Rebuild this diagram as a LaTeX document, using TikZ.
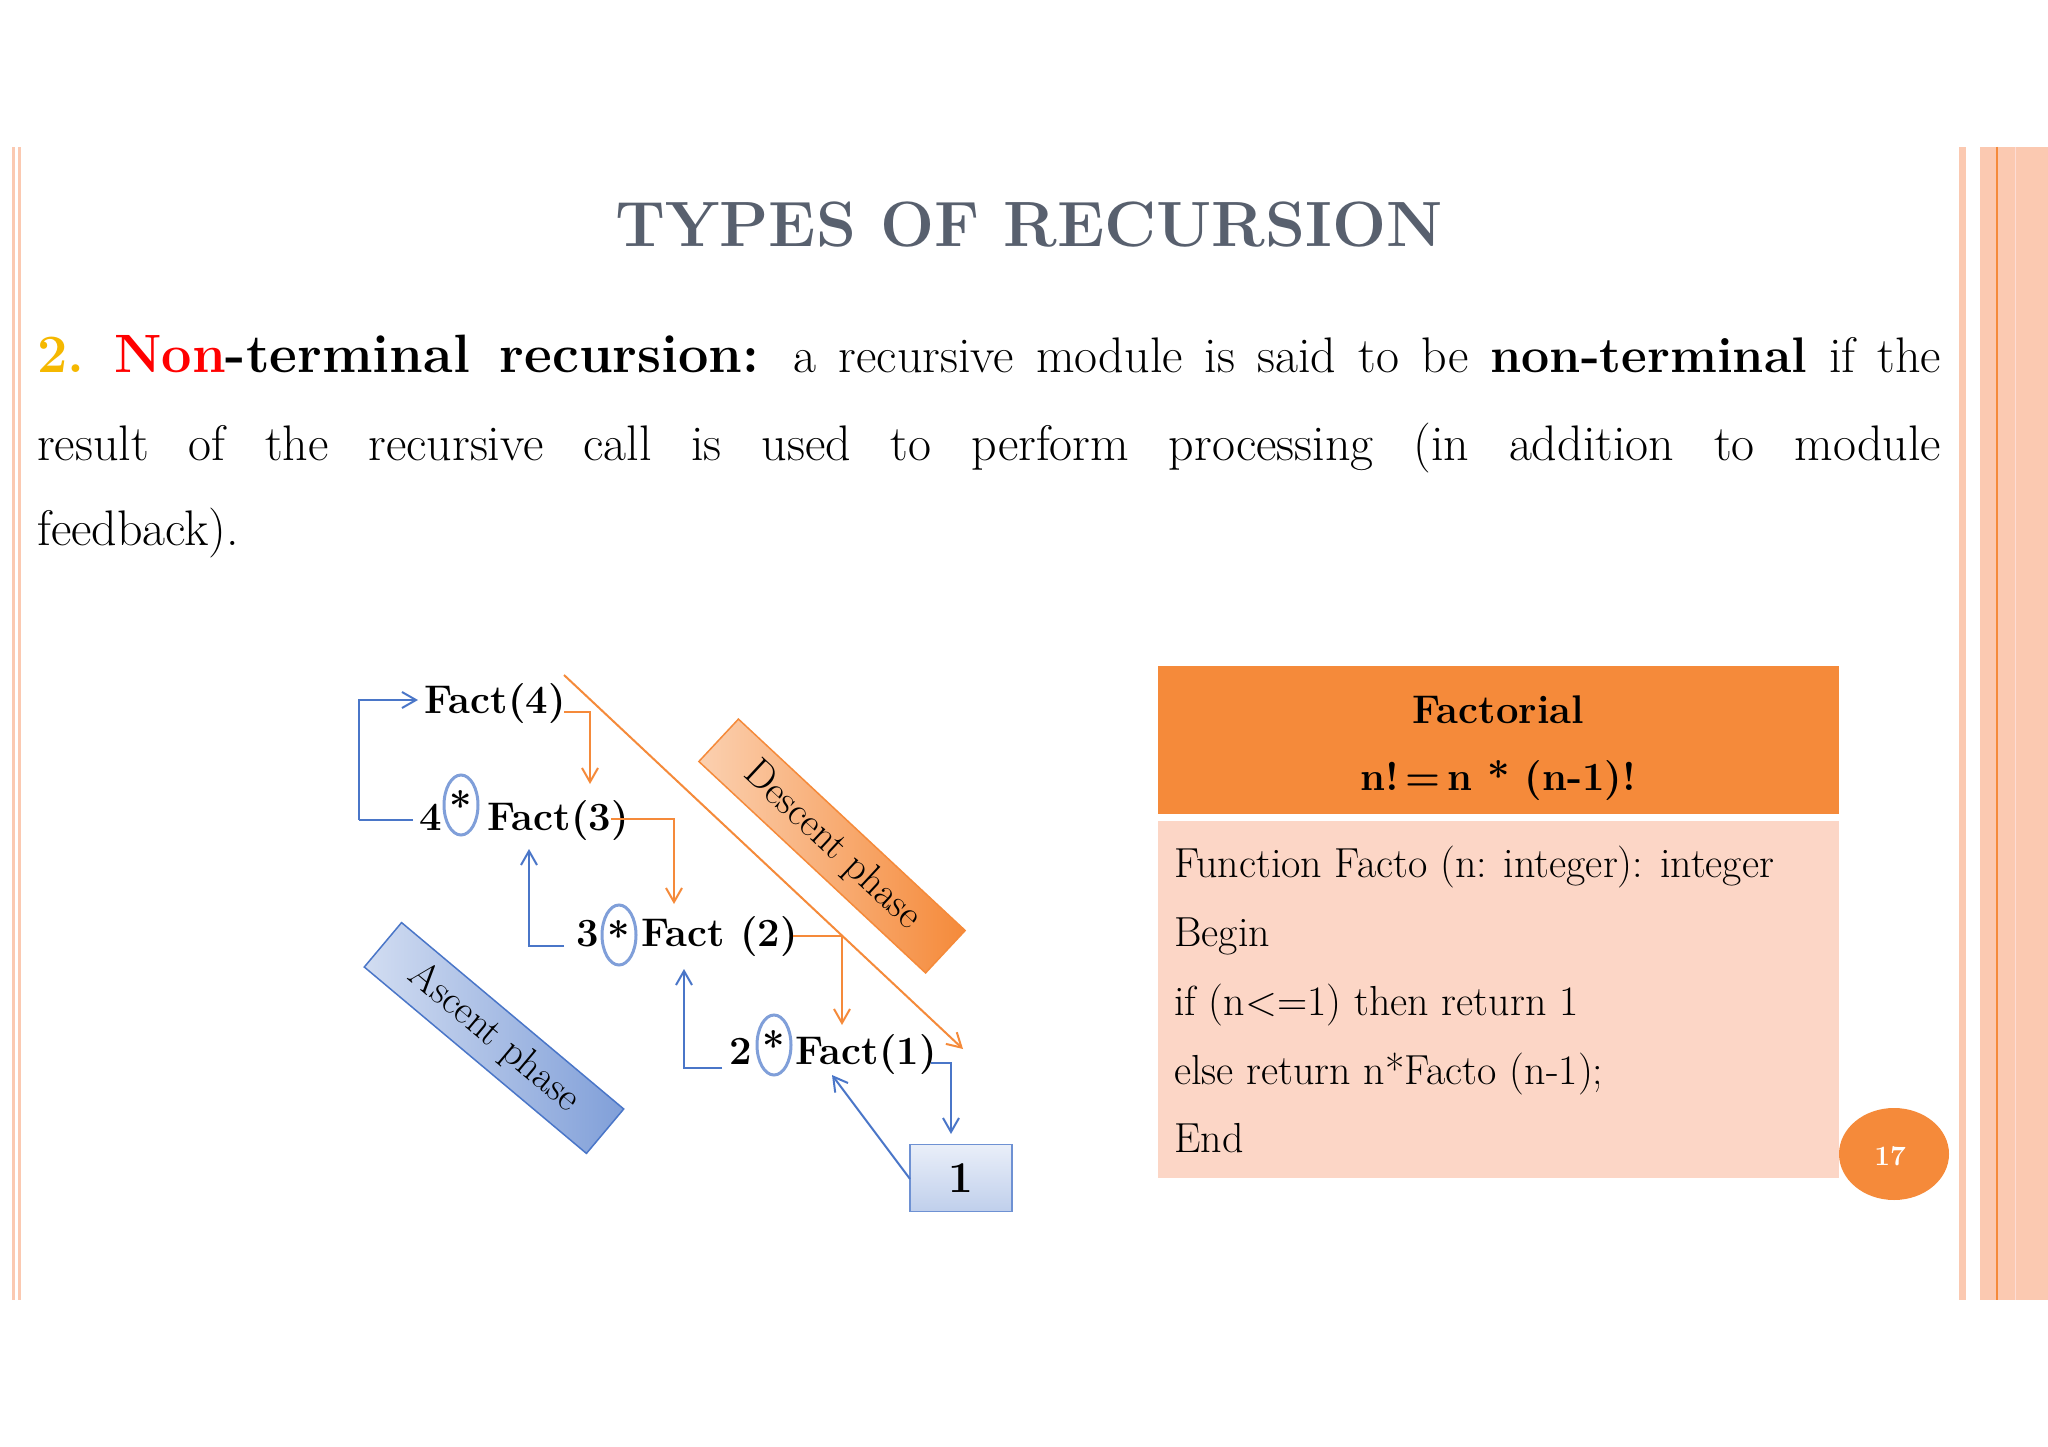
\documentclass[tikz,border=0pt]{standalone}
\usetikzlibrary{arrows.meta,shapes.geometric}
\definecolor{org}{HTML}{F58A3A}
\definecolor{pinkbg}{HTML}{FCD6C6}
\definecolor{bar}{HTML}{FBC9B1}
\definecolor{titlec}{HTML}{58606E}
\definecolor{blu}{HTML}{4A76C8}
\definecolor{ylw}{HTML}{F5B800}
\begin{document}
\begin{tikzpicture}[x=1pt,y=-1pt,
  dg/.style={font=\fontsize{40}{48}\selectfont\bfseries, inner sep=0pt, anchor=base west},
  oarr/.style={org, line width=2pt, -{Straight Barb[length=14pt,width=16pt]}},
  barr/.style={blu, line width=2pt, -{Straight Barb[length=14pt,width=16pt]}},
  bline/.style={blu, line width=2pt},
  oval/.style={draw=blu!70, line width=3pt, ellipse, minimum width=34pt, minimum height=60pt, inner sep=0pt},
  bodyt/.style={font=\fontsize{42}{48}\selectfont, anchor=base west, inner sep=0pt},
  para/.style={font=\fontsize{50}{56}\selectfont, anchor=base west, inner sep=0pt}]
\useasboundingbox (0,0) rectangle (2048,1447);
\fill[white] (0,0) rectangle (2048,1447);
% side bars
\fill[bar] (12,147) rectangle (15,1300);
\fill[bar] (18,147) rectangle (21,1300);
\fill[bar] (1959,147) rectangle (1966,1300);
\fill[bar] (1980,147) rectangle (2048,1300);
\draw[org, line width=2pt] (1997,147) -- (1997,1300);
\draw[bar!130!org, line width=1pt] (2015,147) -- (2015,1300);
% title
\node[font=\fontsize{64}{70}\selectfont\bfseries, text=titlec] (title) at (1029,225) {TYPES OF RECURSION};
% paragraph
\node[para] (l1) at (37,372) {\makebox[1904pt][s]{{\bfseries\fontsize{54}{60}\selectfont\textcolor{ylw}{2.}\ \textcolor{red}{Non}-terminal\ recursion:} a recursive module is said to be \textbf{non-terminal} if the}};
\node[para] (l2) at (37,460) {\makebox[1904pt][s]{result of the recursive call is used to perform processing (in addition to module}};
\node[para] (l3) at (37,545) {feedback).};
% diagram texts
\node[dg] (f4) at (424,713) {Fact(4)};
\node[dg] (n4) at (419,830) {4};
\node[dg] (f3) at (487,830) {Fact(3)};
\node[dg] (n3) at (576,946) {3};
\node[dg] (f2) at (641,946) {Fact (2)};
\node[dg] (n2) at (729,1064) {2};
\node[dg] (f1) at (795,1064) {Fact(1)};
\node[oval] (e4) at (461,805) {\fontsize{40}{48}\selectfont\bfseries\raisebox{-10pt}{*}};
\node[oval] (e3) at (619,935) {\fontsize{40}{48}\selectfont\bfseries\raisebox{-10pt}{*}};
\node[oval] (e2) at (774,1045) {\fontsize{40}{48}\selectfont\bfseries\raisebox{-10pt}{*}};
\node[draw=blu!80, line width=1.5pt, top color=blu!12, bottom color=blu!35, minimum width=102pt, minimum height=67pt, font=\fontsize{44}{50}\selectfont\bfseries] (one) at (961,1178) {1};
% connectors
\coordinate (a0) at (359,820);
\draw[bline] (413,820) -- (a0);
\draw[barr] (a0) -- (359,700) -- (418,700);
\draw[oarr] (564,712) -- (590,712) -- (590,784);
\draw[oarr] (611,819) -- (674,819) -- (674,904);
\draw[barr] (564,946) -- (529,946) -- (529,849);
\draw[oarr] (793,936) -- (842,936) -- (842,1025);
\draw[barr] (722,1068) -- (684,1068) -- (684,969);
\draw[barr] (931,1063) -- (951,1063) -- (951,1134);
\coordinate (oc) at (910,1179);
\draw[barr] (oc) -- (832,1075);
\draw[org, line width=2pt, -{Straight Barb[length=14pt,width=16pt]}] (564,675) -- (963,1049);
% phase labels
\node[draw=org, line width=1.5pt, left color=org!40, right color=org, rotate=-43, minimum width=310pt, minimum height=58pt, font=\fontsize{40}{48}\selectfont] (desc) at (832,846) {Descent phase};
\node[draw=blu, line width=1.5pt, left color=blu!25, right color=blu!70, rotate=-40, minimum width=290pt, minimum height=58pt, font=\fontsize{40}{48}\selectfont] (asc) at (494,1038) {Ascent phase};
% table
\fill[org] (1158,666) rectangle (1839,814);
\fill[pinkbg] (1158,821) rectangle (1839,1178);
\node[font=\fontsize{40}{48}\selectfont\bfseries] (h1) at (1498,710) {Factorial};
\node[font=\fontsize{40}{48}\selectfont\bfseries] (h2) at (1498,781) {n!\,=\,n * (n-1)!};
\node[bodyt] (b1) at (1174,877) {Function Facto (n: integer): integer};
\node[bodyt] (b2) at (1174,946) {Begin};
\node[bodyt] (b3) at (1174,1015) {if (n<=1) then return 1};
\node[bodyt] (b4) at (1174,1084) {else return n*Facto (n-1);};
\node[bodyt] (b5) at (1174,1152) {End};
% page number
\fill[org] (1894,1154) ellipse [x radius=55, y radius=46];
\node[text=white, font=\fontsize{28}{32}\selectfont\bfseries] (pg) at (1890,1156) {17};
\end{tikzpicture}
\end{document}
